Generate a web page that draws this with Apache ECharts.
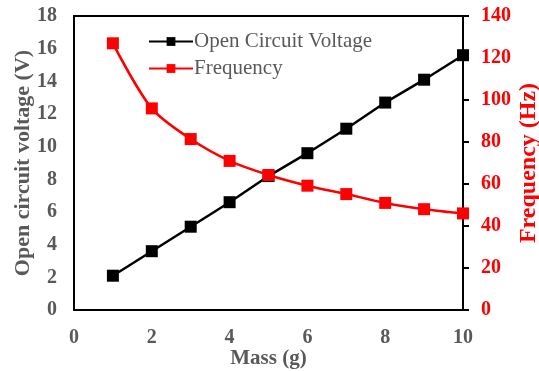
<!DOCTYPE html>
<html><head><meta charset="utf-8">
<script src="https://cdn.jsdelivr.net/npm/echarts@6/dist/echarts.min.js"></script>
<style>html,body{margin:0;padding:0;background:#fff}#c{width:539px;height:371px}</style>
</head><body><div id="c"></div>
<script>
const mass = [1, 2, 3, 4, 5, 6, 7, 8, 9, 10];
const voltage = [2.1, 3.6, 5.1, 6.6, 8.2, 9.6, 11.1, 12.7, 14.1, 15.6];
const frequency = [127, 96, 81.4, 71, 64.3, 59.2, 55.2, 51, 48, 46];
const seriesNames = ['Open Circuit Voltage', 'Frequency'];
const xTitle = 'Mass (g)';
const yLeftTitle = 'Open circuit voltage (V)';
const yRightTitle = 'Frequency (Hz)';

const font = 'Liberation Serif';
const gray = '#595959';
const red = '#ff0000';
const chart = echarts.init(document.getElementById('c'));
chart.setOption({
  animation: false,
  backgroundColor: '#fff',
  grid: {left: 74, right: 76, top: 16, bottom: 61, show: true, borderColor: '#000', borderWidth: 2,
         containLabel: false, outerBoundsMode: 'none'},
  legend: {
    orient: 'vertical', left: 143, top: 26, itemWidth: 44, itemHeight: 11, itemGap: 6,
    textStyle: {fontFamily: font, fontSize: 21, color: gray, padding: [0,0,0,-4]},
    data: seriesNames
  },
  xAxis: {
    type: 'value', min: 0, max: 10, interval: 2,
    name: xTitle, nameLocation: 'middle', nameGap: 38, nameMoveOverlap: false,
    nameTextStyle: {fontFamily: font, fontSize: 21, fontWeight: 'bold', color: gray},
    axisLine: {show: true, lineStyle: {color: '#000', width: 2}},
    axisTick: {show: false},
    splitLine: {show: false},
    axisLabel: {fontFamily: font, fontSize: 20, fontWeight: 'bold', color: gray, margin: 18}
  },
  yAxis: [{
    type: 'value', min: 0, max: 18, interval: 2, position: 'left',
    name: yLeftTitle, nameLocation: 'middle', nameGap: 40, nameRotate: 90, nameMoveOverlap: false,
    nameTextStyle: {fontFamily: font, fontSize: 22, fontWeight: 'bold', color: gray},
    axisLine: {show: true, lineStyle: {color: '#000', width: 2}},
    axisTick: {show: false},
    splitLine: {show: false},
    axisLabel: {fontFamily: font, fontSize: 20, fontWeight: 'bold', color: gray, margin: 17}
  }, {
    type: 'value', min: 0, max: 140, interval: 20, position: 'right',
    name: yRightTitle, nameLocation: 'middle', nameGap: 54, nameRotate: 90, nameMoveOverlap: false,
    nameTextStyle: {fontFamily: font, fontSize: 24, fontWeight: 'bold', color: red},
    axisLine: {show: true, lineStyle: {color: '#000', width: 2}},
    axisTick: {show: true, inside: false, length: 6, lineStyle: {color: '#000', width: 2}},
    splitLine: {show: false},
    axisLabel: {fontFamily: font, fontSize: 20, fontWeight: 'bold', color: red, margin: 18}
  }],
  series: [{
    name: seriesNames[0], type: 'line', yAxisIndex: 0,
    data: mass.map((m, i) => [m, voltage[i]]),
    symbol: 'rect', symbolSize: 12,
    lineStyle: {color: '#000', width: 2.5}, itemStyle: {color: '#000'}, z: 2
  }, {
    name: seriesNames[1], type: 'line', yAxisIndex: 1, smooth: 0.3,
    data: mass.map((m, i) => [m, frequency[i]]),
    symbol: 'rect', symbolSize: 12,
    lineStyle: {color: red, width: 2.5}, itemStyle: {color: red}, z: 3
  }]
});
</script></body></html>
